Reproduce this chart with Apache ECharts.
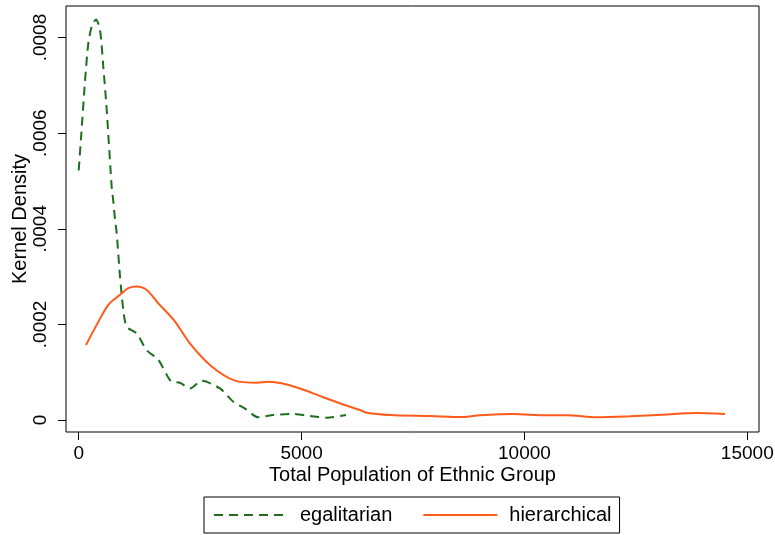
<!DOCTYPE html>
<html>
<head>
<meta charset="utf-8">
<script src="https://cdn.jsdelivr.net/npm/echarts@6/dist/echarts.min.js"></script>
<style>
html,body{margin:0;padding:0;background:#fff;}
#chart{width:775px;height:535px;}
</style>
</head>
<body>
<div id="chart"></div>
<script>
var xTicks = [0, 5000, 10000, 15000];
var yTicks = [0, 0.0002, 0.0004, 0.0006, 0.0008];

var egalitarianX = [0, 60, 141, 216, 292, 388, 478, 552, 628, 740, 777, 815, 852, 927, 1001, 1076, 1301, 1525, 1787, 2086, 2273, 2497, 2759, 3170, 3469, 3731, 4030, 4366, 4815, 5189, 5564, 5997];
var egalitarianY = [0.000522, 0.0006, 0.000708, 0.000788, 0.000823, 0.000838, 0.000816, 0.000739, 0.000649, 0.000488, 0.000457, 0.000419, 0.000391, 0.0003, 0.00023, 0.000195, 0.000181, 0.000146, 0.000126, 0.00008, 0.000078, 0.000066, 0.000082, 0.000066, 0.000038, 0.000024, 0.0000056, 0.0000105, 0.0000126, 0.0000084, 0.0000048, 0.0000105];

var hierarchicalX = [164, 404, 665, 927, 1114, 1301, 1525, 1787, 2160, 2497, 2984, 3507, 3993, 4254, 4554, 4965, 5488, 5950, 6311, 6461, 6984, 7881, 8629, 9003, 9751, 10499, 10948, 11621, 12369, 13116, 13865, 14500];
var hierarchicalY = [0.000157, 0.000199, 0.000241, 0.000262, 0.000276, 0.000279, 0.000272, 0.000244, 0.000206, 0.00016, 0.000112, 0.0000823, 0.000078, 0.00008, 0.0000768, 0.000066, 0.0000475, 0.000032, 0.0000209, 0.0000153, 0.0000105, 0.0000084, 0.0000063, 0.0000098, 0.0000126, 0.0000098, 0.0000098, 0.0000056, 0.0000077, 0.0000111, 0.0000146, 0.0000126];

function zip(a, b) { return a.map(function (v, i) { return [v, b[i]]; }); }

var FONT = '"Liberation Sans", Arial, Helvetica, sans-serif';
var chart = echarts.init(document.getElementById('chart'), null, {renderer: 'canvas'});
chart.setOption({
  backgroundColor: '#fff',
  animation: false,
  textStyle: {fontFamily: FONT, color: '#000'},
  grid: {left: 66, top: 6, width: 693, height: 426, containLabel: false, outerBoundsMode: 'none',
    show: true, borderColor: '#000', borderWidth: 1, backgroundColor: '#fff'},
  xAxis: {
    type: 'value', min: -285, max: 15263,
    name: 'Total Population of Ethnic Group', nameLocation: 'middle', nameGap: 33, nameMoveOverlap: false,
    nameTextStyle: {fontSize: 20, color: '#000', fontFamily: FONT},
    axisLine: {show: false, onZero: false},
    axisTick: {show: true, inside: false, length: 8, lineStyle: {color: '#000', width: 1}, customValues: xTicks},
    axisLabel: {fontSize: 19, color: '#000', margin: 12, fontFamily: FONT, customValues: xTicks,
      formatter: function (v) { return String(v); }},
    splitLine: {show: false}
  },
  yAxis: {
    type: 'value', min: -0.0000251, max: 0.000866,
    name: 'Kernel Density', nameLocation: 'middle', nameGap: 36, nameMoveOverlap: false,
    nameTextStyle: {fontSize: 20, color: '#000', fontFamily: FONT},
    axisLine: {show: false, onZero: false},
    axisTick: {show: true, inside: false, length: 8, lineStyle: {color: '#000', width: 1}, customValues: yTicks},
    axisLabel: {fontSize: 19, color: '#000', margin: 16, rotate: 90, fontFamily: FONT, customValues: yTicks,
      formatter: function (v) { return v === 0 ? '0' : String(v).replace(/^0/, ''); }},
    splitLine: {show: false}
  },
  legend: {
    left: 204, top: 497, width: 400,
    borderColor: '#000', borderWidth: 1,
    padding: [8, 8, 8, 9],
    itemWidth: 74, itemHeight: 20, itemGap: 30,
    itemStyle: {opacity: 0, borderWidth: 0},
    textStyle: {fontSize: 20, color: '#000', fontFamily: FONT, padding: [0, 0, 0, 7]},
    data: ['egalitarian', 'hierarchical']
  },
  series: [
    {
      name: 'egalitarian', type: 'line', symbol: 'none', smooth: 0.25,
      data: zip(egalitarianX, egalitarianY),
      lineStyle: {color: '#1e6e1e', width: 2, type: [9, 6]},
      itemStyle: {color: '#1e6e1e'}
    },
    {
      name: 'hierarchical', type: 'line', symbol: 'none', smooth: 0.3,
      data: zip(hierarchicalX, hierarchicalY),
      lineStyle: {color: '#ff5a1a', width: 2, type: 'solid'},
      itemStyle: {color: '#ff5a1a'}
    }
  ]
});
</script>
</body>
</html>
